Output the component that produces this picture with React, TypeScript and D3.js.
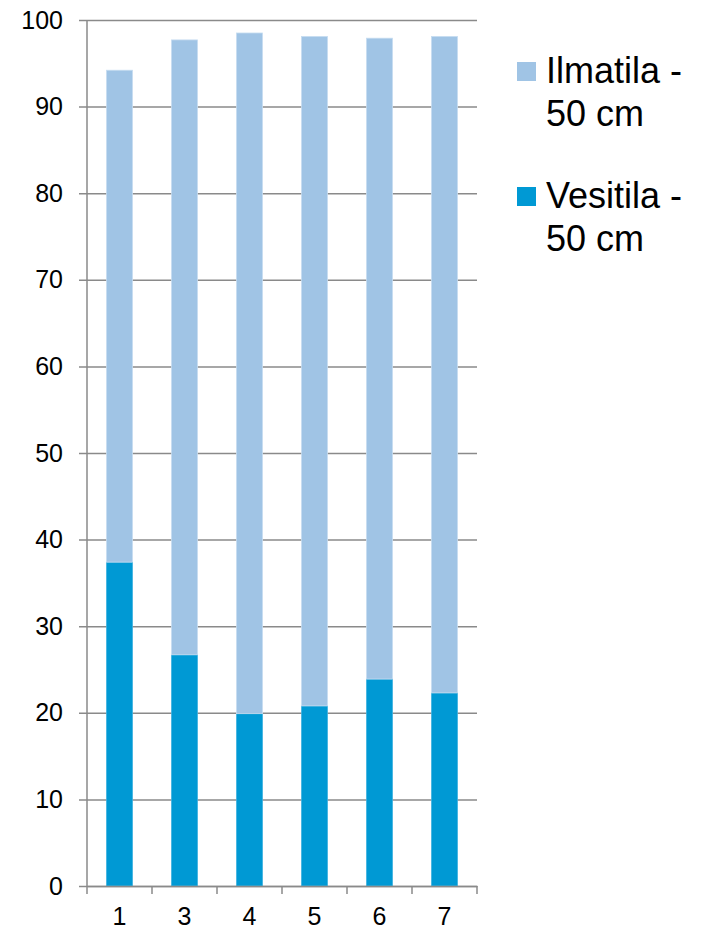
import React, { useEffect, useRef } from 'react';
import * as d3 from 'd3';

// categories on the x axis
const categories = ['1', '3', '4', '5', '6', '7'];
// bottom series (dark)
const vesitila = [37.4, 26.7, 19.9, 20.8, 23.9, 22.3];
// top series (light), stacked on vesitila
const ilmatila = [56.8, 71.0, 78.6, 77.3, 74.0, 75.8];
const yTicks = [0, 10, 20, 30, 40, 50, 60, 70, 80, 90, 100];
const seriesNames = ['Ilmatila -|50 cm', 'Vesitila -|50 cm'];

const App = () => {
    const svgRef = useRef<SVGSVGElement>(null);

    useEffect(() => {
        if (!svgRef.current) return;
        document.body.style.margin = '0';
        const root = d3.select(svgRef.current);
        root.selectAll('*').remove();

        const width = 704;
        const height = 929;
        const margin = { top: 20, right: 227, bottom: 43, left: 87 };
        const font = '"Liberation Sans", Arial, sans-serif';
        const gridColor = '#8a8a8a';
        const colors = { ilm: '#a0c4e5', ves: '#0099d4' };

        root.attr('width', width).attr('height', height);

        const x = d3.scaleBand()
            .domain(categories)
            .range([margin.left, width - margin.right])
            .paddingInner(0.6)
            .paddingOuter(0.3);

        const y = d3.scaleLinear()
            .domain([0, 100])
            .range([height - margin.bottom, margin.top]);

        const rows = categories.map((c, i) => ({ cat: c, ves: vesitila[i], ilm: ilmatila[i] }));
        const stacked = d3.stack<any>().keys(['ves', 'ilm'])(rows);

        // grid lines with left tick marks
        const yAxis = root.append('g')
            .attr('transform', `translate(${margin.left},0)`)
            .call(d3.axisLeft(y)
                .tickValues(yTicks)
                .tickSizeInner(-(width - margin.right - margin.left))
                .tickSizeOuter(0)
                .tickPadding(24)
                .tickFormat(d3.format('d')));
        yAxis.select('.domain').remove();
        yAxis.selectAll('line')
            .attr('x1', -8)
            .attr('stroke', gridColor)
            .attr('stroke-width', 1.5);
        yAxis.selectAll('text')
            .attr('fill', '#000')
            .style('font-family', font)
            .style('font-size', '25px');

        // bars
        stacked.forEach(layer => {
            root.append('g')
                .selectAll('rect')
                .data(layer)
                .enter()
                .append('rect')
                .attr('x', d => x(d.data.cat)!)
                .attr('width', x.bandwidth())
                .attr('y', d => y(d[1]))
                .attr('height', d => y(d[0]) - y(d[1]))
                .attr('fill', layer.key === 'ves' ? colors.ves : colors.ilm)
                .attr('stroke', layer.key === 'ves' ? '#3fb2e0' : '#c6dcf0')
                .attr('stroke-width', 0.8);
        });

        // vertical axis line
        root.append('line')
            .attr('x1', margin.left).attr('x2', margin.left)
            .attr('y1', y(100)).attr('y2', y(0))
            .attr('stroke', gridColor)
            .attr('stroke-width', 1.5);

        // x axis
        const xAxis = root.append('g')
            .attr('transform', `translate(0,${y(0)})`)
            .call(d3.axisBottom(x).tickSize(0).tickPadding(21));
        xAxis.select('.domain')
            .attr('stroke', gridColor)
            .attr('stroke-width', 1.5);
        xAxis.selectAll('text')
            .attr('fill', '#000')
            .style('font-family', font)
            .style('font-size', '25px');
        const step = x.step();
        const bounds = d3.range(categories.length + 1).map(i => margin.left + i * step);
        xAxis.selectAll('line.sep')
            .data(bounds)
            .enter()
            .append('line')
            .attr('class', 'sep')
            .attr('x1', d => d).attr('x2', d => d)
            .attr('y1', 0).attr('y2', 8)
            .attr('stroke', gridColor)
            .attr('stroke-width', 1.5);

        // legend
        const legend = root.append('g').attr('transform', 'translate(517,62)');
        seriesNames.forEach((name, i) => {
            const row = legend.append('g').attr('transform', `translate(0,${i * 125})`);
            row.append('rect')
                .attr('width', 19)
                .attr('height', 19)
                .attr('fill', i === 0 ? colors.ilm : colors.ves);
            name.split('|').forEach((line, j) => {
                row.append('text')
                    .attr('x', 29)
                    .attr('y', 21 + j * 43)
                    .style('font-family', font)
                    .style('font-size', '36px')
                    .attr('fill', '#000')
                    .text(line);
            });
        });
    }, []);

    return (
        <div style={{ position: 'absolute', left: 0, top: 0 }}>
            <svg ref={svgRef} style={{ display: 'block' }}></svg>
        </div>
    );
};

export default App;
